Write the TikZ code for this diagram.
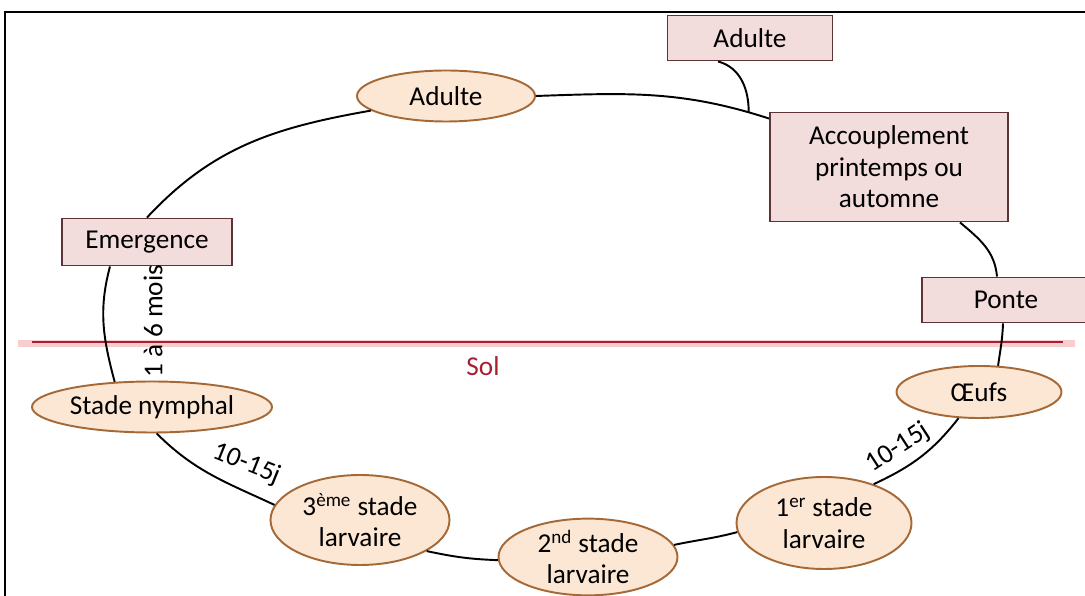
\documentclass[tikz,border=0pt]{standalone}
\usepackage{fontspec}
\setmainfont{Carlito}
\usetikzlibrary{shapes.geometric, positioning}

\definecolor{roseboite}{RGB}{242,220,220}
\definecolor{bordboite}{RGB}{95,50,55}
\definecolor{peche}{RGB}{252,230,212}
\definecolor{bordpeche}{RGB}{165,105,55}
\definecolor{rougesol}{RGB}{170,30,50}
\definecolor{rosesol}{RGB}{248,205,208}

\tikzset{
  boite/.style={rectangle, draw=bordboite, fill=roseboite, line width=1.1pt,
    inner sep=0pt, align=center},
  stade/.style={ellipse, draw=bordpeche, fill=peche, line width=1.1pt,
    inner sep=0pt, align=center},
  cycle/.style={line width=1.1pt, black},
  duree/.style={inner sep=1pt}
}

\begin{document}
\begin{tikzpicture}[font=\fontsize{15.5}{18}\selectfont]
				\clip (0,0) rectangle (21.7,11.92);
				\useasboundingbox (0,0) rectangle (21.7,11.92);
				\draw[line width=1.1pt] (0.1,-1) -- (0.1,11.68) -- (23,11.68);
				% sol
				\draw[rosesol, line width=4.5pt] (0.36,5.05) -- (21.5,5.05);
				\draw[rougesol, line width=1.6pt] (0.64,5.08) -- (21.26,5.08);
				\node[text=rougesol] (sol) at (9.66,4.6) {Sol};
				% stades
				\node[boite, minimum width=3.3cm, minimum height=0.9cm] (adulteB) at (15.0,11.16) {Adulte};
				\node[stade, minimum width=3.56cm, minimum height=1.02cm] (adulteE) at (8.92,10.0) {Adulte};
				\node[boite, minimum width=4.76cm, minimum height=2.18cm] (accoupl) at (17.78,8.58) {Accouplement\\printemps ou\\automne};
				\node[boite, minimum width=3.4cm, minimum height=0.94cm] (emerg) at (2.94,7.08) {Emergence};
				\node[boite, minimum width=3.36cm, minimum height=0.9cm] (ponte) at (20.12,5.92) {Ponte};
				\node[stade, minimum width=3.3cm, minimum height=1.04cm] (oeufs) at (19.58,4.08) {Œufs};
				\node[stade, minimum width=4.8cm, minimum height=1.02cm] (nymphe) at (3.04,3.78) {Stade nymphal};
				\node[stade, minimum width=3.58cm, minimum height=1.8cm] (larve3) at (7.2,1.52) {3\textsuperscript{ème} stade\\larvaire};
				\node[stade, minimum width=3.58cm, minimum height=1.5cm] (larve2) at (11.76,0.78) {2\textsuperscript{nd} stade\\larvaire};
				\node[stade, minimum width=3.5cm, minimum height=1.84cm] (larve1) at (16.48,1.46) {1\textsuperscript{er} stade\\larvaire};
				% cycle
				\path[cycle] (adulteE.east) edge[out=2, in=162] coordinate[pos=0.92] (jonction) (accoupl.158)
					([xshift=-0.64cm]adulteB.south) edge[out=-15, in=90] (jonction)
					(adulteE.191) edge[out=190, in=47] (emerg.north)
					([xshift=-0.74cm]emerg.south) edge[out=255, in=105] (nymphe.146)
					(nymphe.-80) edge[out=-45, in=155] (larve3.170)
					(larve3.-25) edge[out=-12, in=178] (larve2.182)
					(larve2.8) edge[out=12, in=195] (larve1.186)
					(larve1.38) edge[out=25, in=232] (oeufs.232)
					(oeufs.54) edge[out=82, in=-92] ([xshift=-0.06cm]ponte.south)
					([xshift=-0.18cm]ponte.north) edge[out=95, in=-40] ([xshift=1.42cm]accoupl.south);
				% durees
				\node[duree, rotate=90] (mois) at (3.06,5.5) {1 à 6 mois};
				\node[duree, rotate=-22] (jours1) at (4.94,2.64) {10-15j};
				\node[duree, rotate=33] (jours2) at (17.96,2.96) {10-15j};
			\end{tikzpicture}
\end{document}
